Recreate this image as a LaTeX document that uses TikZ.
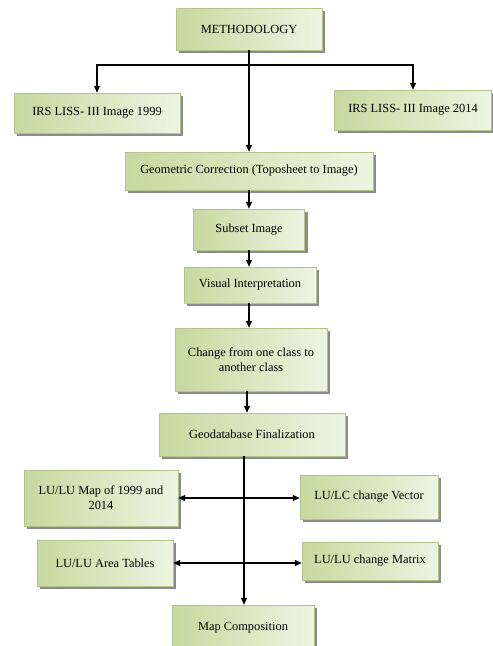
\documentclass[tikz,border=0pt]{standalone}
\usepackage{fontspec}
\setmainfont{Liberation Serif}
\usetikzlibrary{arrows.meta,shadows}
\definecolor{boxdark}{RGB}{198,217,158}
\definecolor{boxlight}{RGB}{238,244,226}
\definecolor{boxedge}{RGB}{178,196,140}
\begin{document}
\begin{tikzpicture}[
  x=1pt, y=-1pt,
  box/.style={draw=boxedge, left color=boxdark, right color=boxlight, align=center,
    font=\fontsize{12.4}{15}\selectfont, inner sep=2pt,
    drop shadow={shadow xshift=3pt, shadow yshift=-3pt, fill=black!45, opacity=1}},
  arr/.style={-{Triangle[length=7pt,width=6pt]}, line width=1.1pt},
  darr/.style={{Triangle[length=7pt,width=6pt]}-{Triangle[length=7pt,width=6pt]}, line width=1.1pt}
]
\useasboundingbox (0,0) rectangle (493,646);
\node[box, minimum width=146pt, minimum height=42pt] (meth) at (249,29) {METHODOLOGY};
\node[box, minimum width=166pt, minimum height=40pt] (irsa) at (97,113) {IRS LISS- III Image 1999};
\node[box, minimum width=157pt, minimum height=40pt] (irsb) at (413,110) {IRS LISS- III Image 2014};
\node[box, minimum width=248pt, minimum height=38pt] (geo) at (249,171) {Geometric Correction (Toposheet to Image)};
\node[box, minimum width=111pt, minimum height=41pt] (subset) at (249,229.5) {Subset Image};
\node[box, minimum width=132pt, minimum height=36pt] (visual) at (250,285) {Visual Interpretation};
\node[box, minimum width=152pt, minimum height=63pt] (change) at (251,359.5) {Change from one class to\\another class};
\node[box, minimum width=186pt, minimum height=43pt] (gdb) at (252,434.5) {Geodatabase Finalization};
\node[box, minimum width=154pt, minimum height=56pt] (lumap) at (101,498) {LU/LU Map of 1999 and\\2014};
\node[box, minimum width=138pt, minimum height=44pt] (vector) at (369,497) {LU/LC change Vector};
\node[box, minimum width=136pt, minimum height=46pt] (area) at (105,563) {LU/LU Area Tables};
\node[box, minimum width=136pt, minimum height=38pt] (matrix) at (370,561) {LU/LU change Matrix};
\node[box, minimum width=142pt, minimum height=45pt] (mapc) at (243,627.5) {Map Composition};
\coordinate (split) at (249,65);
\draw[arr] (meth) -- (geo);
\draw[arr] (split) -| (irsa);
\draw[arr] (split) -| (irsb);
\draw[arr] (geo) -- (subset);
\draw[arr] (subset) -- (visual.north -| subset);
\draw[arr] (visual.south -| geo) -- (change.north -| geo);
\draw[arr] (change.south -| 247,0) -- (gdb.north -| 247,0);
\draw[arr] (gdb.south -| 244,0) -- (mapc.north -| 244,0);
\draw[darr] (lumap.east) -- (lumap.east -| vector.west);
\draw[darr] (area.east) -- (area.east -| matrix.west);
\end{tikzpicture}
\end{document}
